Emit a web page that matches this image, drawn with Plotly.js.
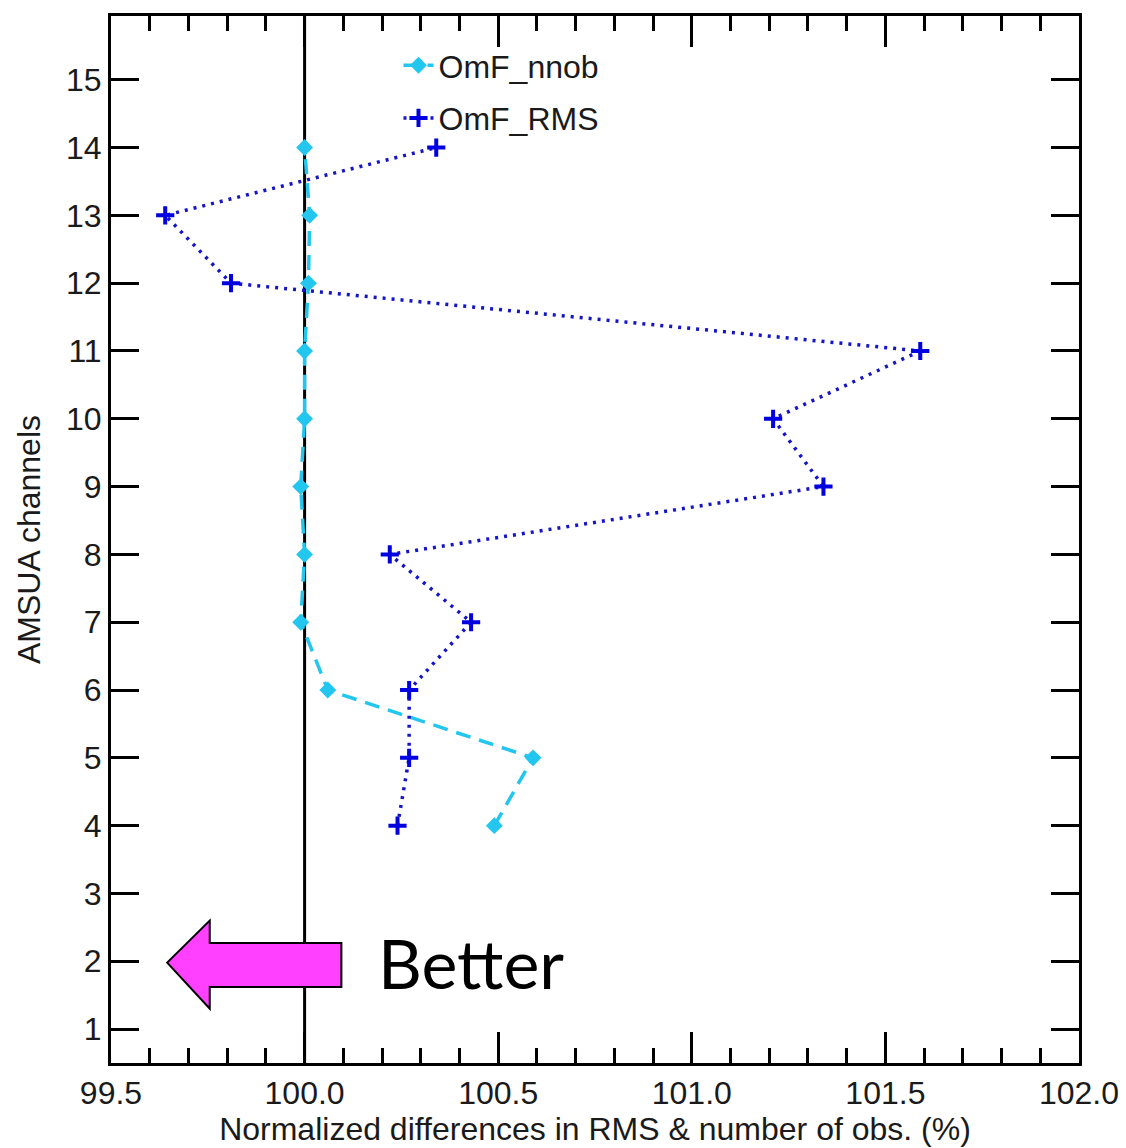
<!DOCTYPE html>
<html>
<head>
<meta charset="utf-8">
<script src="https://cdn.plot.ly/plotly-3.0.1.min.js"></script>
<style>
  html, body { margin: 0; padding: 0; background: #ffffff; }
  #chart { width: 1126px; height: 1148px; }
</style>
</head>
<body>
<div id="chart"></div>
<script>
// AMSU-A channels shown on the vertical axis
const channels = [4, 5, 6, 7, 8, 9, 10, 11, 12, 13, 14];

// Normalized number of observations (%) per channel
const omfNnob = [100.49, 100.59, 100.06, 99.99, 100.0, 99.99, 100.0, 100.0, 100.01, 100.013, 100.0];

// Normalized O-F RMS (%) per channel
const omfRms = [100.24, 100.27, 100.27, 100.43, 100.22, 101.34, 101.21, 101.59, 99.81, 99.64, 100.34];

// Axis ticks
const yTicks = [1, 2, 3, 4, 5, 6, 7, 8, 9, 10, 11, 12, 13, 14, 15];
const xTicks = [99.5, 100.0, 100.5, 101.0, 101.5, 102.0];
const xTickText = ['99.5', '100.0', '100.5', '101.0', '101.5', '102.0'];

const axisFont = { family: "'Liberation Sans', Arial, Helvetica, sans-serif", size: 32, color: '#1a1a1a' };

const traces = [
  {
    x: omfNnob, y: channels, name: 'OmF_nnob',
    type: 'scatter', mode: 'lines+markers',
    line: { color: '#22c6ee', width: 3.5, dash: '15px,9px' },
    marker: { symbol: 'diamond', size: 13, color: '#22c6ee' },
    legendgroup: 'a'
  },
  {
    x: omfRms, y: channels, name: 'OmF_RMS',
    type: 'scatter', mode: 'lines+markers',
    line: { color: '#1414c8', width: 3.5, dash: '3px,6px' },
    marker: { symbol: 'cross-thin', size: 13, color: '#0000e0', line: { color: '#0000e0', width: 4 } },
    legendgroup: 'b'
  }
];

const layout = {
  width: 1126, height: 1148,
  margin: { l: 111, r: 47, t: 16, b: 85 },
  paper_bgcolor: '#ffffff', plot_bgcolor: '#ffffff',
  font: axisFont,
  showlegend: true,
  legend: {
    x: 0.297, y: 0.979, xanchor: 'left', yanchor: 'top',
    bgcolor: 'rgba(0,0,0,0)', font: axisFont,
    traceorder: 'grouped', tracegroupgap: 8
  },
  xaxis: {
    range: [99.5, 102.0],
    tickvals: xTicks, ticktext: xTickText,
    ticks: 'inside', ticklen: 31, tickwidth: 3, tickcolor: '#000',
    minor: { dtick: 0.1, ticks: 'inside', ticklen: 15, tickwidth: 3, tickcolor: '#000', showgrid: false },
    showline: true, linewidth: 3, linecolor: '#000', mirror: 'ticks',
    showgrid: false, zeroline: false,
    tickfont: axisFont,
    title: { text: 'Normalized differences in RMS & number of obs. (%)', font: axisFont, standoff: 2 }
  },
  yaxis: {
    range: [0.5, 15.94],
    tickvals: yTicks,
    ticks: 'inside', ticklen: 28, tickwidth: 3, tickcolor: '#000',
    showline: true, linewidth: 3, linecolor: '#000', mirror: 'ticks',
    showgrid: false, zeroline: false,
    tickfont: axisFont,
    title: { text: 'AMSUA channels', font: axisFont, standoff: 16 }
  },
  shapes: [
    // reference line at 100 %
    { type: 'line', xref: 'x', yref: 'paper', x0: 100, x1: 100, y0: 0, y1: 1,
      line: { color: '#000', width: 3 }, layer: 'below' },
    // "Better" arrow pointing toward lower values
    { type: 'path', xref: 'x', yref: 'y', layer: 'above',
      path: 'M 99.645 1.98 L 99.755 2.6 L 99.755 2.27 L 100.095 2.27 L 100.095 1.62 L 99.755 1.62 L 99.755 1.3 Z',
      fillcolor: '#ff40ff', line: { color: '#000', width: 2 } }
  ],
  annotations: [
    { text: 'Better', xref: 'x', yref: 'y', x: 100.185, y: 1.98, xanchor: 'left', yanchor: 'middle',
      showarrow: false, font: { family: 'Lato, Noto Sans, sans-serif', size: 68, color: '#000' } }
  ]
};

Plotly.newPlot('chart', traces, layout, { staticPlot: true, displayModeBar: false });
</script>
</body>
</html>
